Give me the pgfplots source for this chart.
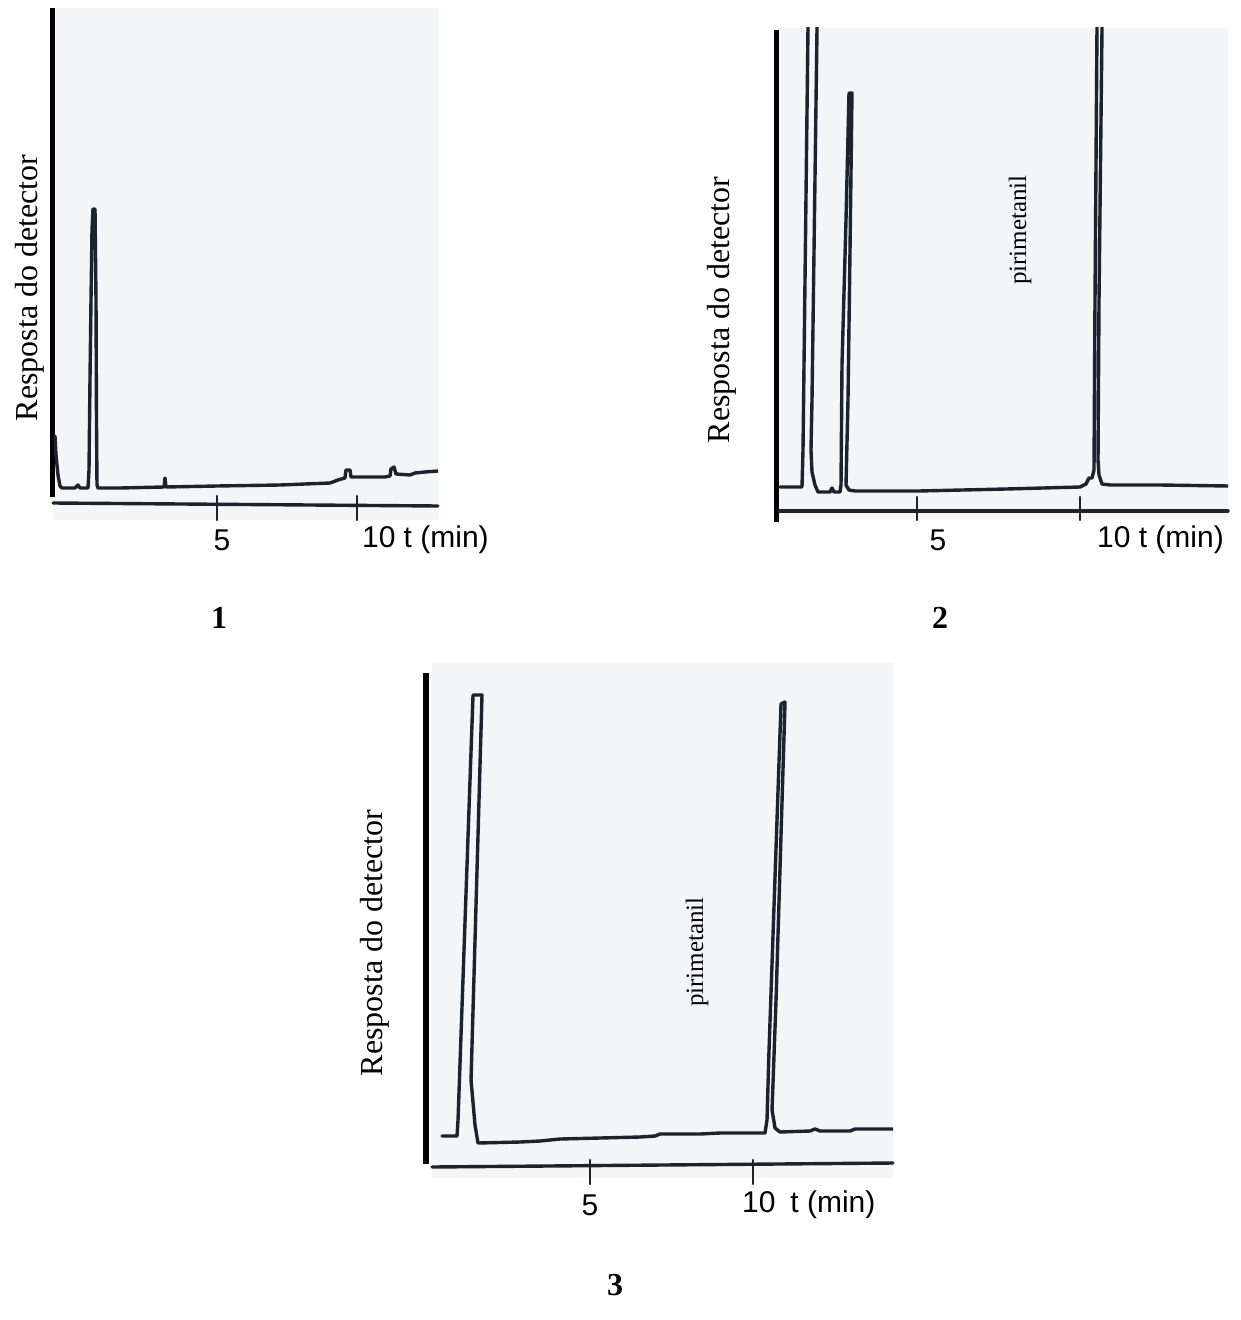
\documentclass[border=0pt]{standalone}
\usepackage{pgfplots}
\pgfplotsset{compat=1.18}
\usepackage{fontspec}
\setmainfont{Liberation Serif}
\newfontfamily\arialfont{Liberation Sans}

\definecolor{paper}{RGB}{244,245,247}
\definecolor{ink}{RGB}{30,33,46}

\pgfplotsset{
  chrom/.style={
    scale only axis,
    anchor=south west,
    hide axis,
    clip mode=individual,
    ymin=0,
  },
}
\tikzset{pen/.style={draw=ink, line width=1.7pt, line join=round, line cap=round}}

\begin{document}
\begin{tikzpicture}
\begin{scope}[x=0.5pt, y=-0.5pt]
\useasboundingbox (0,0) rectangle (1240,1320);
\end{scope}

% ---------------- chromatogram 1 ----------------
\begin{axis}[chrom, at={(26.5pt,-260pt)}, width=192.5pt, height=256pt,
  xmin=-0.857, xmax=12.893, ymax=512]
  \fill[paper] (rel axis cs:0,0) rectangle (rel axis cs:1,1);
  \fill[black] (axis cs:-0.964,23) rectangle (axis cs:-0.786,512);
  \draw[pen] (axis cs:-0.857,17) -- (axis cs:12.893,14);
  \draw[pen, line width=1.2pt] (axis cs:5,24) -- (axis cs:5,0);
  \draw[pen, line width=1.2pt] (axis cs:10,24) -- (axis cs:10,0);
  \addplot[pen, no marks] coordinates {
    (-0.786,84) (-0.75,65) (-0.679,45) (-0.607,34) (-0.536,32)
    (-0.071,32) (0.036,35) (0.107,32) (0.393,32)
    (0.429,50) (0.464,140) (0.5,220) (0.536,290) (0.571,311)
    (0.643,311) (0.679,220) (0.696,100) (0.714,35) (0.75,32)
    (1.536,32) (3.107,33) (3.143,42) (3.179,33) (5.0,34) (7.25,35)
    (9.036,37) (9.321,40) (9.571,42) (9.607,50) (9.75,50) (9.786,43)
    (11.0,43) (11.179,44) (11.214,51) (11.321,53) (11.393,46)
    (11.893,45) (12.071,47) (12.429,48) (12.893,49)
  };
\end{axis}

% ---------------- chromatogram 2 ----------------
\begin{axis}[chrom, at={(389.5pt,-260pt)}, width=224.5pt, height=246pt,
  xmin=0.767, xmax=14.54, ymax=492]
  \fill[paper] (rel axis cs:0,0) rectangle (rel axis cs:1,1);
  \fill[black] (axis cs:0.613,-2) rectangle (axis cs:0.767,490);
  \draw[pen] (axis cs:0.767,9) -- (axis cs:14.54,9);
  \draw[pen, line width=1.2pt] (axis cs:5,23) -- (axis cs:5,0);
  \draw[pen, line width=1.2pt] (axis cs:10,23) -- (axis cs:10,0);
  \addplot[pen, no marks] coordinates {
    (0.798,33) (1.472,33) (1.503,70) (1.656,492) (1.675,540)
    (1.951,540) (1.933,492) (1.779,120) (1.748,70) (1.779,48)
    (1.871,35) (1.963,28) (2.331,28) (2.393,32) (2.454,28) (2.638,28)
    (2.669,35) (2.699,155) (2.822,300) (2.914,427) (3.006,427)
    (2.945,270) (2.883,120) (2.822,35) (2.914,30) (3.098,29)
    (5.061,29) (7.73,31) (10.0,33) (10.184,36) (10.276,42) (10.368,42)
    (10.429,50) (10.46,220) (10.521,492) (10.527,540)
    (10.681,540) (10.675,492) (10.583,220) (10.552,60) (10.583,45)
    (10.675,36) (10.92,35) (12.454,35) (14.54,34)
  };
\end{axis}

% ---------------- chromatogram 3 ----------------
\begin{axis}[chrom, at={(216pt,-589pt)}, width=230.5pt, height=257.5pt,
  xmin=0.153, xmax=14.294, ymax=515]
  \fill[paper] (rel axis cs:0,0) rectangle (rel axis cs:1,1);
  \fill[black] (axis cs:-0.123,14) rectangle (axis cs:0.061,505);
  \draw[pen] (axis cs:0.153,11) -- (axis cs:14.294,15);
  \draw[pen, line width=1.2pt] (axis cs:5,18) -- (axis cs:5,-6);
  \draw[pen, line width=1.2pt] (axis cs:10,18) -- (axis cs:10,-6);
  \addplot[pen, no marks] coordinates {
    (0.46,42) (0.92,42) (0.951,58) (1.411,483) (1.687,483)
    (1.35,98) (1.472,53) (1.564,35) (2.853,36) (3.466,37) (4.08,39)
    (5.307,40) (6.534,41) (6.994,42) (7.147,44) (8.374,44) (8.988,45)
    (10.368,45) (10.429,58) (10.491,128) (10.859,474) (10.982,476)
    (10.706,178) (10.583,68) (10.675,50) (10.828,46) (11.748,47)
    (11.902,49) (12.055,47) (12.975,47) (13.129,49) (14.294,49)
  };
\end{axis}

% ---------------- labels ----------------
\begin{scope}[x=0.5pt, y=-0.5pt]
\begin{scope}[font=\fontsize{16pt}{19pt}\selectfont]
  \node[rotate=90] at (30,288) {Resposta do detector};
  \node[rotate=90] at (722,310) {Resposta do detector};
  \node[rotate=90] at (375,943) {Resposta do detector};
  \node at (219,618) {\bfseries 1};
  \node at (940,618) {\bfseries 2};
  \node at (615,1285) {\bfseries 3};
\end{scope}
\begin{scope}[font=\fontsize{12.5pt}{15pt}\selectfont]
  \node[rotate=90] at (1020,230) {pirimetanil};
  \node[rotate=90] at (697,952) {pirimetanil};
\end{scope}
\begin{scope}[font=\arialfont\fontsize{15pt}{18pt}\selectfont]
  \node at (222,540) {5};
  \node[anchor=west] at (355,540) {10 t (min)};
  \node at (938,540) {5};
  \node[anchor=west] at (1090,540) {10 t (min)};
  \node at (590,1205) {5};
  \node[anchor=west] at (735,1205) {10\enspace t (min)};
\end{scope}
\end{scope}
\end{tikzpicture}
\end{document}
